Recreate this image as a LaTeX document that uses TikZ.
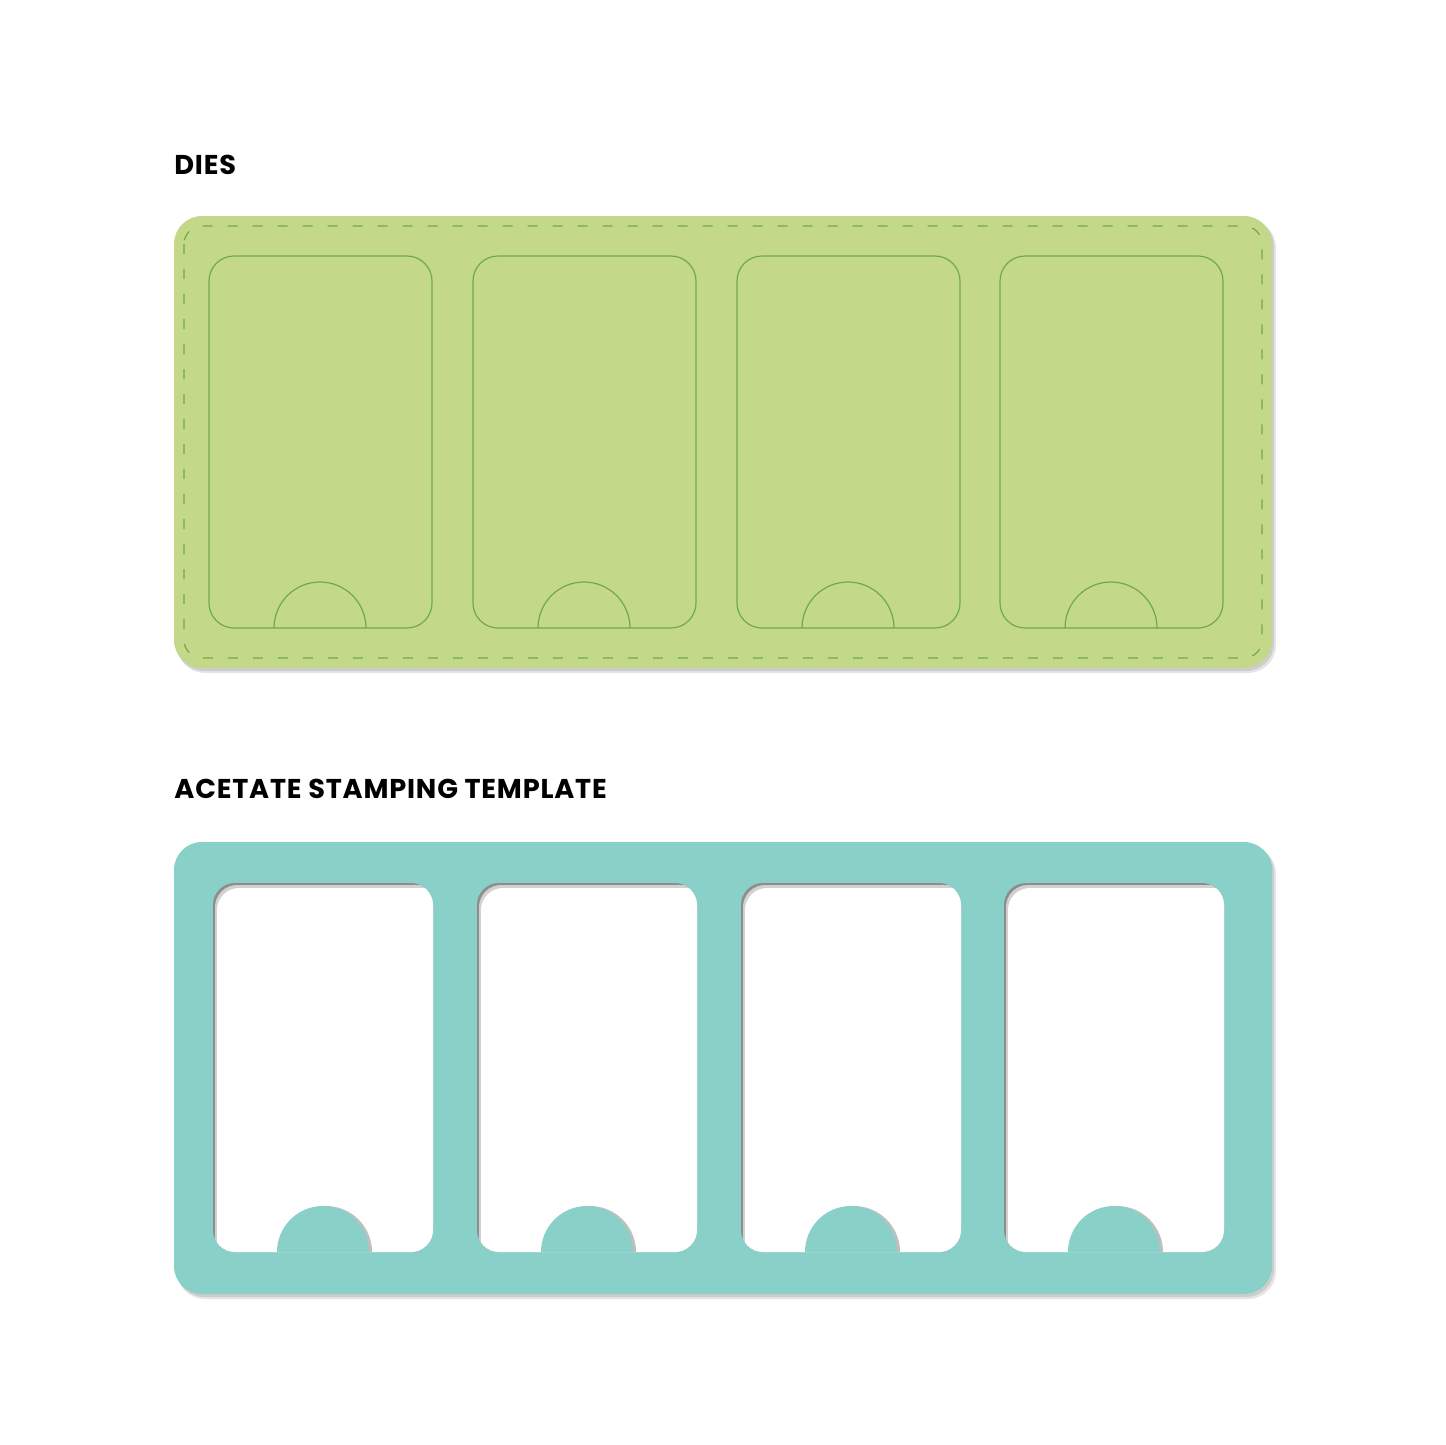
\documentclass[tikz,border=0pt]{standalone}
\usepackage{fontspec}
\setmainfont{Poppins}[LetterSpace=3]
\definecolor{diegreen}{RGB}{195,217,137}
\definecolor{dieline}{RGB}{112,170,72}
\definecolor{teal}{RGB}{137,208,201}
\tikzset{
  title/.style={anchor=base west, inner sep=0pt, font=\fontsize{13.6pt}{15pt}\selectfont\bfseries},
  dieshape/.style={draw=dieline, line width=0.6pt},
  shadowA/.style={fill=black, opacity=0.10},
}
\begin{document}
\begin{tikzpicture}[x=0.5pt,y=0.5pt]
\useasboundingbox (0,0) rectangle (1445,-1445);
\fill[white] (0,0) rectangle (1445,-1445);
% titles
\node[title] (dies) at (174,-174) {DIES};
\node[title] (acetate) at (174,-798) {ACETATE STAMPING TEMPLATE};
% ---- dies board
\fill[shadowA, rounded corners=14pt] (177,-220) rectangle (1276,-673);
\fill[shadowA, rounded corners=14pt] (176,-218) rectangle (1274,-671);
\fill[diegreen, rounded corners=14pt] (174,-216) rectangle (1272,-668);
\draw[dieline, line width=0.6pt, dash pattern=on 5pt off 7.5pt, rounded corners=9pt] (184,-226) rectangle (1262,-658);
\foreach \L in {209,473,737,1000}{
  \draw[dieshape, rounded corners=12.5pt] (\L,-256) rectangle (\L+223,-628);
  \draw[dieshape] (\L+65,-628) arc[start angle=180,end angle=0,radius=23pt];
}
% ---- acetate template
\fill[shadowA, rounded corners=14pt] (177,-846) rectangle (1276,-1299);
\fill[shadowA, rounded corners=14pt] (176,-844) rectangle (1274,-1297);
\fill[teal, rounded corners=14pt] (174,-842) rectangle (1272,-1294);
\foreach \L in {213,477,741,1004}{
  \begin{scope}
    \clip[rounded corners=11pt] (\L,-883) rectangle (\L+220,-1252);
    \fill[black!45] (\L,-883) rectangle (\L+220,-1252);
    \fill[black!18, rounded corners=11pt] (\L+2,-885) rectangle (\L+240,-1270);
    \fill[white, rounded corners=11pt] (\L+4,-888) rectangle (\L+240,-1270);
    \fill[black!25] (\L+159,-1252) arc[start angle=0,end angle=180,radius=23pt] -- cycle;
    \fill[teal] (\L+156,-1252) arc[start angle=0,end angle=180,radius=23pt] -- cycle;
  \end{scope}
}
\end{tikzpicture}
\end{document}
